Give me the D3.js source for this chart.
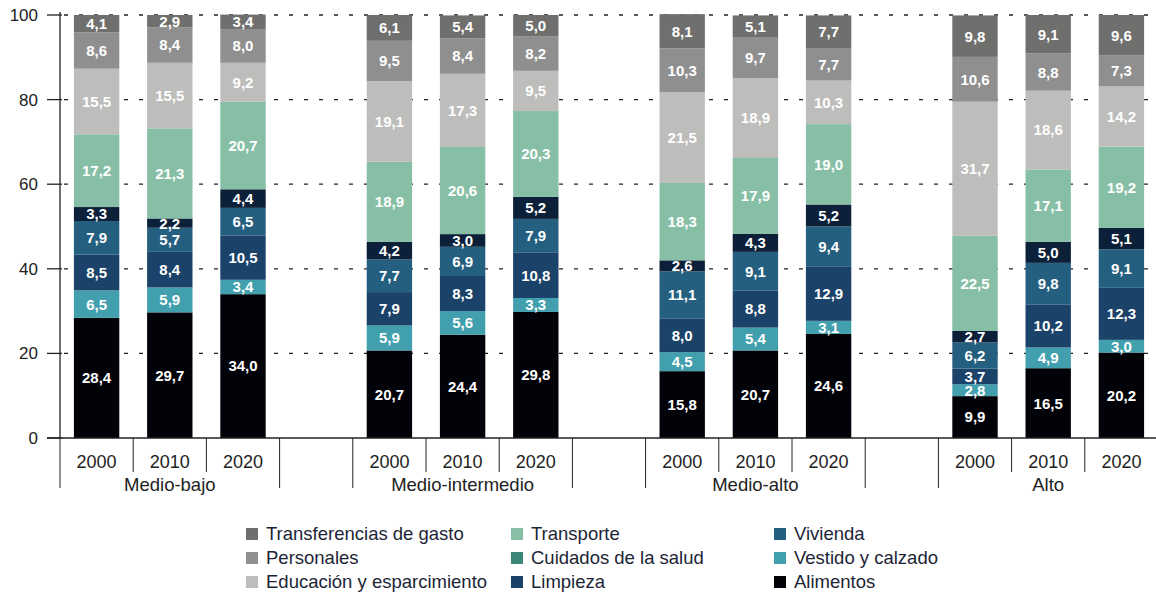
<!DOCTYPE html>
<html>
<head>
<meta charset="utf-8">
<script src="https://cdn.jsdelivr.net/npm/d3@7"></script>
<style>
  body { margin: 0; background: #fff; }
  svg { display: block; font-family: "Liberation Sans", Arial, sans-serif; }
  .seg-label { fill: #fff; font-weight: bold; font-size: 15px; }
  .tick-label { fill: #222; font-size: 17px; }
  .year-label { fill: #222; font-size: 18px; }
  .group-label { fill: #222; font-size: 18.5px; }
  .legend-label { fill: #1c2536; font-size: 18.5px; }
</style>
</head>
<body>
<div id="chart"></div>
<script>
/*global d3:true */

// groups and years on the x axis
var groups = ["Medio-bajo", "Medio-intermedio", "Medio-alto", "Alto"];
var years = ["2000", "2010", "2020"];

// one value per bar: Medio-bajo 2000/2010/2020, Medio-intermedio ..., Medio-alto ..., Alto ...
var alimentos      = [28.4, 29.7, 34.0, 20.7, 24.4, 29.8, 15.8, 20.7, 24.6,  9.9, 16.5, 20.2];
var vestido        = [ 6.5,  5.9,  3.4,  5.9,  5.6,  3.3,  4.5,  5.4,  3.1,  2.8,  4.9,  3.0];
var limpieza       = [ 8.5,  8.4, 10.5,  7.9,  8.3, 10.8,  8.0,  8.8, 12.9,  3.7, 10.2, 12.3];
var vivienda       = [ 7.9,  5.7,  6.5,  7.7,  6.9,  7.9, 11.1,  9.1,  9.4,  6.2,  9.8,  9.1];
var salud          = [ 3.3,  2.2,  4.4,  4.2,  3.0,  5.2,  2.6,  4.3,  5.2,  2.7,  5.0,  5.1];
var transporte     = [17.2, 21.3, 20.7, 18.9, 20.6, 20.3, 18.3, 17.9, 19.0, 22.5, 17.1, 19.2];
var educacion      = [15.5, 15.5,  9.2, 19.1, 17.3,  9.5, 21.5, 18.9, 10.3, 31.7, 18.6, 14.2];
var personales     = [ 8.6,  8.4,  8.0,  9.5,  8.4,  8.2, 10.3,  9.7,  7.7, 10.6,  8.8,  7.3];
var transferencias = [ 4.1,  2.9,  3.4,  6.1,  5.4,  5.0,  8.1,  5.1,  7.7,  9.8,  9.1,  9.6];

// stacking order, bottom to top
var seriesNames = ["Alimentos", "Vestido y calzado", "Limpieza", "Vivienda", "Cuidados de la salud",
                   "Transporte", "Educación y esparcimiento", "Personales", "Transferencias de gasto"];
var seriesValues = [alimentos, vestido, limpieza, vivienda, salud, transporte, educacion, personales, transferencias];
var barColors = ["#020308", "#42a0ae", "#1b4268", "#245f7f", "#0c2139", "#87bfa6", "#bdbdbb", "#8f8f8f", "#6f6f6d"];
var legendColors = ["#020308", "#42a0ae", "#1b4268", "#245f7f", "#3a8679", "#87bfa6", "#bdbdbb", "#8f8f8f", "#6f6f6d"];

// legend layout: columns read top to bottom
var legendColumns = [
  ["Transferencias de gasto", "Personales", "Educación y esparcimiento"],
  ["Transporte", "Cuidados de la salud", "Limpieza"],
  ["Vivienda", "Vestido y calzado", "Alimentos"]
];

var yTicks = [0, 20, 40, 60, 80, 100];

var width = 1156, height = 592;
var margin = {top: 15, left: 60, bottom: 154};
var slot = 73.2;

var rows = [];
groups.forEach(function(g, gi) {
  years.forEach(function(y, yi) {
    var r = {group: g, year: y};
    seriesNames.forEach(function(s, si) { r[s] = seriesValues[si][gi * 3 + yi]; });
    rows.push(r);
  });
});

var svg = d3.select("#chart").append("svg")
    .attr("width", width)
    .attr("height", height);

var y = d3.scaleLinear()
    .domain([0, 100])
    .range([height - margin.bottom, margin.top]);

var x0 = d3.scaleBand()
    .domain(groups)
    .range([margin.left, margin.left + slot * 4 * groups.length]);

var x1 = d3.scaleBand()
    .domain(years)
    .range([0, slot * 3])
    .paddingInner(0.38)
    .paddingOuter(0.19);

var color = d3.scaleOrdinal().domain(seriesNames).range(barColors);

// dashed gridlines
svg.append("g")
  .selectAll("line")
  .data(yTicks.filter(function(d) { return d > 0; }))
  .enter().append("line")
    .attr("x1", margin.left + 4)
    .attr("x2", width)
    .attr("y1", function(d) { return y(d); })
    .attr("y2", function(d) { return y(d); })
    .style("stroke", "#222")
    .style("stroke-width", 1.3)
    .style("stroke-dasharray", "4,11");

var stack = d3.stack().keys(seriesNames);
var stacked = stack(rows);

var layer = svg.append("g")
  .selectAll("g")
  .data(stacked)
  .enter().append("g")
    .style("fill", function(d) { return color(d.key); });

layer.selectAll("rect")
  .data(function(d) { return d; })
  .enter().append("rect")
    .attr("x", function(d) { return x0(d.data.group) + x1(d.data.year); })
    .attr("width", x1.bandwidth())
    .attr("y", function(d) { return y(d[1]); })
    .attr("height", function(d) { return y(d[0]) - y(d[1]); });

layer.selectAll("text")
  .data(function(d) { return d; })
  .enter().append("text")
    .attr("class", "seg-label")
    .attr("x", function(d) { return x0(d.data.group) + x1(d.data.year) + x1.bandwidth() / 2; })
    .attr("y", function(d) { return y((d[0] + d[1]) / 2); })
    .attr("dy", "0.36em")
    .attr("text-anchor", "middle")
    .text(function(d) { return d3.format(".1f")(d[1] - d[0]).replace(".", ","); });

// y axis
var yAxis = svg.append("g");
yAxis.append("line")
    .attr("x1", margin.left).attr("x2", margin.left)
    .attr("y1", y(100) - 3).attr("y2", y(0))
    .style("stroke", "#222").style("stroke-width", 1.3);
yAxis.selectAll(".ytick")
  .data(yTicks)
  .enter().append("line")
    .attr("x1", margin.left - 13).attr("x2", margin.left + 2)
    .attr("y1", function(d) { return y(d); })
    .attr("y2", function(d) { return y(d); })
    .style("stroke", "#222").style("stroke-width", 1.3);
yAxis.selectAll("text")
  .data(yTicks)
  .enter().append("text")
    .attr("class", "tick-label")
    .attr("x", margin.left - 22)
    .attr("y", function(d) { return y(d); })
    .attr("dy", "0.35em")
    .attr("text-anchor", "end")
    .text(function(d) { return d; });

// x axis: baseline, separators, year and group labels
var xAxis = svg.append("g");
xAxis.append("line")
    .attr("x1", margin.left - 13).attr("x2", width)
    .attr("y1", y(0)).attr("y2", y(0))
    .style("stroke", "#222").style("stroke-width", 1.3);

groups.forEach(function(g) {
  var gx = x0(g);
  [0, 1, 2, 3].forEach(function(k) {
    var long = (k === 0 || k === 3);
    xAxis.append("line")
        .attr("x1", gx + k * slot).attr("x2", gx + k * slot)
        .attr("y1", y(0)).attr("y2", y(0) + (long ? 50 : 34))
        .style("stroke", "#222").style("stroke-width", 1);
  });
  years.forEach(function(yr) {
    xAxis.append("text")
        .attr("class", "year-label")
        .attr("x", gx + x1(yr) + x1.bandwidth() / 2)
        .attr("y", y(0) + 30)
        .attr("text-anchor", "middle")
        .text(yr);
  });
  xAxis.append("text")
      .attr("class", "group-label")
      .attr("x", gx + slot * 1.5)
      .attr("y", y(0) + 53)
      .attr("text-anchor", "middle")
      .text(g);
});

// legend
var legendX = [246, 511, 774];
var legend = svg.append("g");
legendColumns.forEach(function(col, ci) {
  col.forEach(function(name, ri) {
    var cy = 534 + ri * 24;
    legend.append("rect")
        .attr("x", legendX[ci]).attr("y", cy - 6)
        .attr("width", 12).attr("height", 12)
        .style("fill", legendColors[seriesNames.indexOf(name)]);
    legend.append("text")
        .attr("class", "legend-label")
        .attr("x", legendX[ci] + 20)
        .attr("y", cy)
        .attr("dy", "0.35em")
        .text(name);
  });
});
</script>
</body>
</html>
